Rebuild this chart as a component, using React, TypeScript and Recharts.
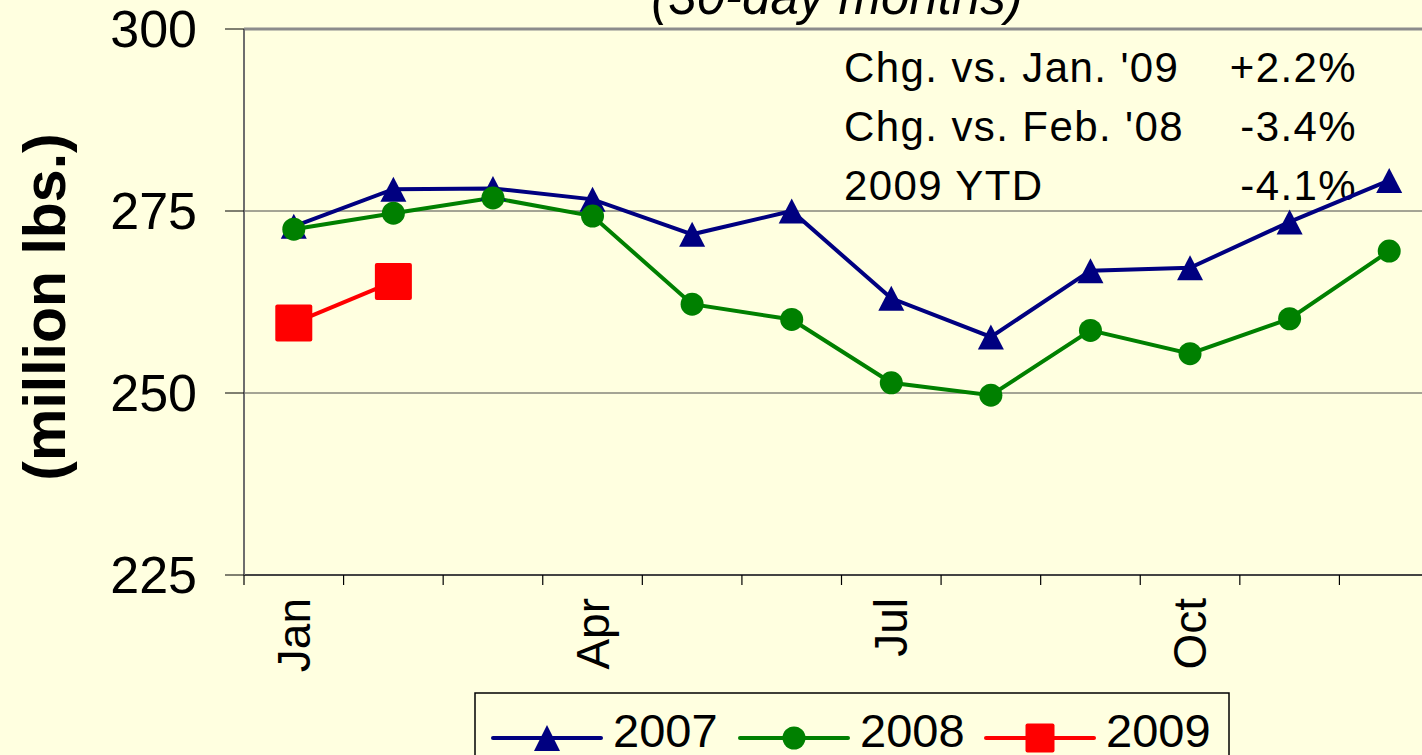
import React from "react";
import {
  LineChart, Line, XAxis, YAxis, CartesianGrid, ReferenceLine,
} from "recharts";

// monthly supply, million lbs. (30-day months)
const MONTHS = ["Jan", "Feb", "Mar", "Apr", "May", "Jun", "Jul", "Aug", "Sep", "Oct", "Nov", "Dec"];
const LABELED_MONTHS = ["Jan", "Apr", "Jul", "Oct"];
const Y_TICKS = [225, 250, 275, 300];

const S2007 = [272.9, 278.0, 278.1, 276.6, 271.8, 275.0, 263.0, 257.7, 266.8, 267.2, 273.5, 279.2];
const S2008 = [272.5, 274.7, 276.8, 274.3, 262.2, 260.1, 251.4, 249.7, 258.6, 255.4, 260.2, 269.5];
const S2009 = [259.6, 265.3];

const NOTES = [
  { label: "Chg. vs. Jan. '09", value: "+2.2%" },
  { label: "Chg. vs. Feb. '08", value: "-3.4%" },
  { label: "2009 YTD", value: "-4.1%" },
];

const SERIES = [
  { key: "y2007", name: "2007", color: "#000080", marker: "triangle" },
  { key: "y2008", name: "2008", color: "#008000", marker: "circle" },
  { key: "y2009", name: "2009", color: "#ff0000", marker: "square" },
];

const BG = "#ffffe0";
const FONT = "'Liberation Sans', Arial, sans-serif";

const data = MONTHS.map((m, i) => ({
  x: i + 0.5,
  month: m,
  y2007: S2007[i] ?? null,
  y2008: S2008[i] ?? null,
  y2009: S2009[i] ?? null,
}));

function Triangle({ cx, cy, w = 26, h = 25, color = "#000080" }: any) {
  if (cx == null || cy == null) return <g />;
  return <path d={`M${cx - w / 2},${cy + h / 2} L${cx + w / 2},${cy + h / 2} L${cx},${cy - h / 2} Z`} fill={color} />;
}

function Square({ cx, cy, s = 37, color = "#ff0000" }: any) {
  if (cx == null || cy == null) return <g />;
  return <rect x={cx - s / 2} y={cy - s / 2} width={s} height={s} rx={2} fill={color} />;
}

function MonthTick({ x, y, payload }: any) {
  const label = MONTHS[Math.floor(payload.value)];
  return (
    <text x={x} y={y} transform={`rotate(-90 ${x} ${y})`} textAnchor="end" dominantBaseline="central"
      fontSize={46} fontFamily={FONT} fill="#000">
      {label}
    </text>
  );
}

function LegendIcon({ marker, color, x, y }: any) {
  return (
    <g>
      <line x1={x} x2={x + 108} y1={y} y2={y} stroke={color} strokeWidth={4} strokeLinecap="round" />
      {marker === "triangle" && <Triangle cx={x + 54} cy={y} w={26} h={26} color={color} />}
      {marker === "circle" && <circle cx={x + 54} cy={y} r={11.5} fill={color} />}
      {marker === "square" && <Square cx={x + 54} cy={y} s={29} color={color} />}
    </g>
  );
}

export default function App() {
  const labelTicks = LABELED_MONTHS.map((m) => MONTHS.indexOf(m) + 0.5);
  const boundaryTicks = Array.from({ length: MONTHS.length + 1 }, (_, i) => i);
  const legendStarts = [493, 740, 986];

  return (
    <div style={{ position: "fixed", left: 0, top: 0, width: 1422, height: 755, overflow: "hidden", background: BG }}>
      {/* text behind the plot */}
      <svg width={1422} height={755} style={{ position: "absolute", left: 0, top: 0 }}>
        <text x={837} y={14} textAnchor="middle" fontSize={51} fontStyle="italic" fontFamily={FONT}>(30-day months)</text>
        <text x={45} y={307} transform="rotate(-90 45 307)" textAnchor="middle" dominantBaseline="central"
          fontSize={59} fontWeight="bold" fontFamily={FONT}>(million lbs.)</text>
        {NOTES.map((n, i) => (
          <g key={n.label} fontSize={42} fontFamily={FONT} letterSpacing={1.4}>
            <text x={844} y={82 + i * 59}>{n.label}</text>
            <text x={1357} y={82 + i * 59} textAnchor="end">{n.value}</text>
          </g>
        ))}
      </svg>

      <div style={{ position: "absolute", left: 0, top: 0 }}>
        <LineChart width={1450} height={755} data={data} margin={{ top: 29, right: 11, bottom: 0, left: 0 }}>
          <CartesianGrid vertical={false} stroke="#4a4a4a" strokeWidth={1} xAxisId="b" />
          <XAxis xAxisId="b" type="number" dataKey="x" domain={[0, 12]} ticks={labelTicks}
            tick={<MonthTick />} tickLine={false} axisLine={false} tickSize={0} tickMargin={11} height={168} interval={0} />
          <XAxis xAxisId="a" type="number" dataKey="x" domain={[0, 12]} ticks={boundaryTicks}
            tick={() => <g />} tickSize={10} tickMargin={0} height={12} interval={0}
            axisLine={{ stroke: "#444", strokeWidth: 2 }} tickLine={{ stroke: "#000", strokeWidth: 1.2 }} />
          <YAxis domain={[225, 300]} ticks={Y_TICKS} width={244} tickSize={19} tickMargin={28} interval={0}
            axisLine={{ stroke: "#6e6e6e", strokeWidth: 2 }} tickLine={{ stroke: "#000" }}
            tick={{ fontSize: 52, fill: "#000", fontFamily: FONT }} />
          <ReferenceLine y={300} xAxisId="b" stroke="#8c8c8c" strokeWidth={3} />
          <Line xAxisId="b" dataKey="y2007" stroke="#000080" strokeWidth={4} isAnimationActive={false}
            dot={(p: any) => <Triangle key={`t${p.index}`} cx={p.cx} cy={p.cy} color="#000080" />} />
          <Line xAxisId="b" dataKey="y2008" stroke="#008000" strokeWidth={4} isAnimationActive={false}
            dot={{ r: 11.5, fill: "#008000", stroke: "none" }} />
          <Line xAxisId="b" dataKey="y2009" stroke="#ff0000" strokeWidth={4} isAnimationActive={false}
            connectNulls={false}
            dot={(p: any) => <Square key={`s${p.index}`} cx={p.cx} cy={p.cy} color="#ff0000" />} />
        </LineChart>
      </div>

      {/* legend */}
      <svg width={1422} height={755} style={{ position: "absolute", left: 0, top: 0, pointerEvents: "none" }}>
        <rect x={475} y={693} width={754} height={100} fill="none" stroke="#000" strokeWidth={1.5} />
        {SERIES.map((s, i) => (
          <g key={s.key}>
            <LegendIcon marker={s.marker} color={s.color} x={legendStarts[i]} y={738} />
            <text x={legendStarts[i] + 120} y={747} fontSize={47} fontFamily={FONT}>{s.name}</text>
          </g>
        ))}
      </svg>
    </div>
  );
}
